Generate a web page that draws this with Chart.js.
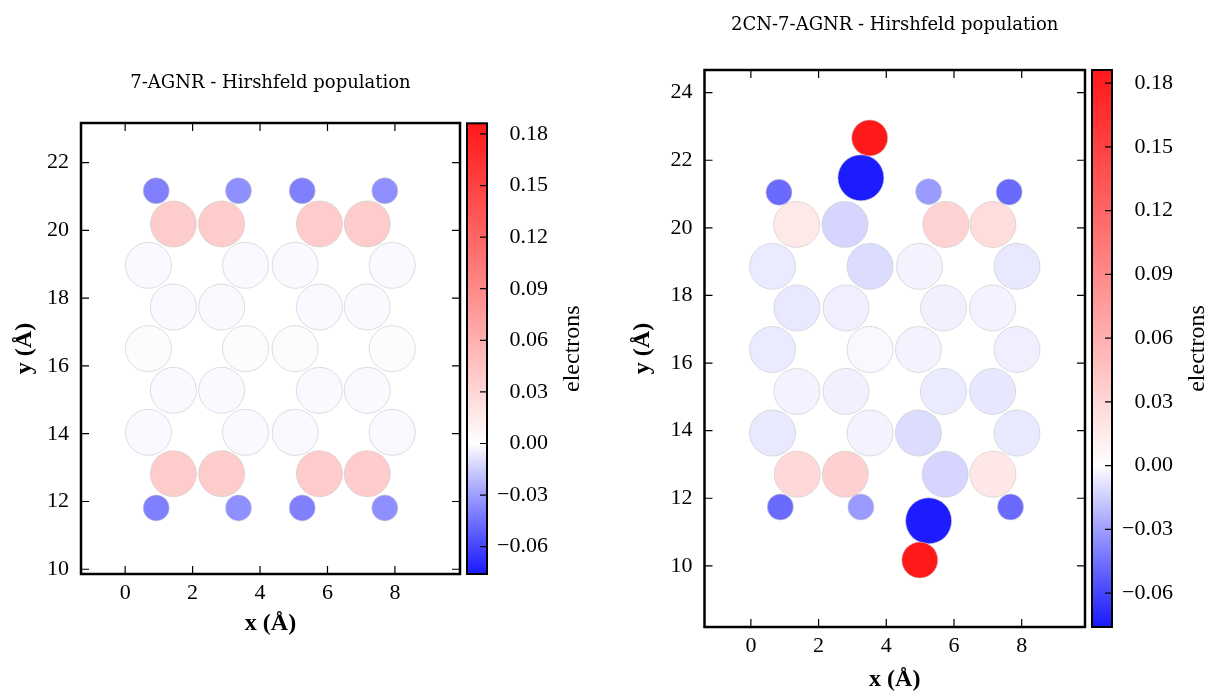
<!DOCTYPE html>
<html>
<head>
<meta charset="utf-8">
<script src="https://cdn.jsdelivr.net/npm/chart.js@4/dist/chart.umd.min.js"></script>
<style>
  html, body { margin: 0; padding: 0; background: #fff; }
  body { width: 1212px; height: 696px; position: relative; overflow: hidden; }
  canvas { position: absolute; }
</style>
</head>
<body>
<canvas id="mainL"></canvas>
<canvas id="cbL"></canvas>
<canvas id="mainR"></canvas>
<canvas id="cbR"></canvas>
<script>
// 7-AGNR atoms (H top row, 7 carbon rows, H bottom row)
const agnrX = [
  0.92, 3.36, 5.25, 7.70,
  1.43, 2.86, 5.76, 7.18,
  0.69, 3.57, 5.04, 7.92,
  1.43, 2.86, 5.76, 7.18,
  0.69, 3.57, 5.04, 7.92,
  1.43, 2.86, 5.76, 7.18,
  0.69, 3.57, 5.04, 7.92,
  1.43, 2.86, 5.76, 7.18,
  0.92, 3.36, 5.25, 7.70
];
const agnrY = [
  21.17, 21.17, 21.17, 21.17,
  20.19, 20.19, 20.19, 20.19,
  18.97, 18.97, 18.97, 18.97,
  17.74, 17.74, 17.74, 17.74,
  16.51, 16.51, 16.51, 16.51,
  15.28, 15.28, 15.28, 15.28,
  14.04, 14.04, 14.04, 14.04,
  12.82, 12.82, 12.82, 12.82,
  11.81, 11.81, 11.81, 11.81
];
const agnrQ = [
  -0.042, -0.037, -0.042, -0.037,
  0.041, 0.041, 0.041, 0.041,
  -0.002, -0.002, -0.002, -0.002,
  -0.002, -0.002, -0.002, -0.002,
  -0.001, -0.001, -0.001, -0.001,
  -0.002, -0.002, -0.002, -0.002,
  -0.002, -0.002, -0.002, -0.002,
  0.041, 0.041, 0.041, 0.041,
  -0.042, -0.037, -0.042, -0.037
];
const agnrEl = [
  'H','H','H','H',
  'C','C','C','C', 'C','C','C','C', 'C','C','C','C', 'C','C','C','C',
  'C','C','C','C', 'C','C','C','C', 'C','C','C','C',
  'H','H','H','H'
];

// 2CN-7-AGNR atoms (CN top, H top, 7 carbon rows, H bottom, CN bottom)
const cnX = [
  3.51, 3.25,
  0.83, 5.25, 7.63,
  1.35, 2.78, 5.76, 7.15,
  0.64, 3.52, 4.98, 7.86,
  1.36, 2.81, 5.69, 7.14,
  0.64, 3.52, 4.95, 7.86,
  1.36, 2.81, 5.69, 7.14,
  0.64, 3.52, 4.95, 7.86,
  1.37, 2.79, 5.74, 7.15,
  0.87, 3.25, 7.67,
  5.25, 4.99
];
const cnY = [
  22.66, 21.48,
  21.05, 21.07, 21.06,
  20.10, 20.10, 20.10, 20.10,
  18.86, 18.86, 18.86, 18.86,
  17.63, 17.63, 17.63, 17.63,
  16.40, 16.40, 16.40, 16.40,
  15.16, 15.16, 15.16, 15.16,
  13.93, 13.93, 13.93, 13.93,
  12.71, 12.71, 12.71, 12.71,
  11.74, 11.74, 11.74,
  11.33, 10.17
];
const cnQ = [
  0.186, -0.075,
  -0.049, -0.033, -0.049,
  0.019, -0.014, 0.036, 0.028,
  -0.0065, -0.0115, -0.004, -0.0075,
  -0.0075, -0.0055, -0.005, -0.004,
  -0.0065, -0.0025, -0.004, -0.0055,
  -0.004, -0.005, -0.0065, -0.008,
  -0.0075, -0.004, -0.0115, -0.007,
  0.031, 0.038, -0.014, 0.020,
  -0.049, -0.033, -0.049,
  -0.075, 0.186
];
const cnEl = [
  'N','C',
  'H','H','H',
  'C','C','C','C', 'C','C','C','C', 'C','C','C','C', 'C','C','C','C',
  'C','C','C','C', 'C','C','C','C', 'C','C','C','C',
  'H','H','H',
  'C','N'
];

const xTicks = [0, 2, 4, 6, 8];
const yTicksL = [10, 12, 14, 16, 18, 20, 22];
const yTicksR = [10, 12, 14, 16, 18, 20, 22, 24];
const cbTicks = [-0.06, -0.03, 0.00, 0.03, 0.06, 0.09, 0.12, 0.15, 0.18];
const qMin = -0.0759, qMax = 0.1862;

// marker sizes and styling
const radius = { C: 23, H: 13, N: 18 };
const ALPHA = 0.9;
const SERIF = '"Liberation Serif", "Times New Roman", serif';

Chart.defaults.font.family = SERIF;
Chart.defaults.color = '#000';

// bwr colormap, two slopes with white pinned at zero
function bwrRGB(q){
  if(q < 0){ const t = Math.min(1, q / qMin); return [1 - t, 1 - t, 1]; }
  const t = Math.min(1, q / qMax); return [1, 1 - t, 1 - t];
}
function bwr(q, a){
  const c = bwrRGB(q).map(v => Math.round(v * 255));
  return `rgba(${c[0]},${c[1]},${c[2]},${a})`;
}

function sizeCanvas(id, g){
  const cv = document.getElementById(id);
  cv.width = g.w; cv.height = g.h;
  cv.style.left = g.left + 'px'; cv.style.top = g.top + 'px';
  cv.style.width = g.w + 'px'; cv.style.height = g.h + 'px';
  return cv;
}

// frame + inward ticks on all four sides
const framePlugin = {
  id: 'frame',
  afterDraw(chart){
    const {ctx, chartArea: a, scales} = chart;
    ctx.save();
    ctx.strokeStyle = '#000';
    ctx.lineWidth = 1.2;
    const tl = 8;
    ctx.beginPath();
    for(const t of scales.x.ticks){
      const px = scales.x.getPixelForValue(t.value);
      ctx.moveTo(px, a.bottom); ctx.lineTo(px, a.bottom - tl);
      ctx.moveTo(px, a.top); ctx.lineTo(px, a.top + tl);
    }
    for(const t of scales.y.ticks){
      const py = scales.y.getPixelForValue(t.value);
      ctx.moveTo(a.left, py); ctx.lineTo(a.left + tl, py);
      ctx.moveTo(a.right, py); ctx.lineTo(a.right - tl, py);
    }
    ctx.stroke();
    ctx.lineWidth = 2.5;
    ctx.strokeRect(a.left, a.top, a.right - a.left, a.bottom - a.top);
    ctx.restore();
  }
};

// colour bar: gradient, frame, inward ticks, label
const cbPlugin = {
  id: 'cbar',
  afterDraw(chart){
    const {ctx, chartArea: a, scales} = chart;
    const y = scales.y;
    const pMin = y.getPixelForValue(qMin), pMax = y.getPixelForValue(qMax);
    const p0 = y.getPixelForValue(0);
    const grad = ctx.createLinearGradient(0, pMin, 0, pMax);
    grad.addColorStop(0, bwr(qMin, ALPHA));
    grad.addColorStop((p0 - pMin) / (pMax - pMin), 'rgba(255,255,255,1)');
    grad.addColorStop(1, bwr(qMax, ALPHA));
    ctx.save();
    ctx.fillStyle = '#fff';
    ctx.fillRect(a.left, a.top, a.right - a.left, a.bottom - a.top);
    ctx.fillStyle = grad;
    ctx.fillRect(a.left, a.top, a.right - a.left, a.bottom - a.top);
    ctx.strokeStyle = '#000';
    ctx.lineWidth = 1.2;
    ctx.beginPath();
    for(const t of y.ticks){
      const py = y.getPixelForValue(t.value);
      ctx.moveTo(a.right, py); ctx.lineTo(a.right - 7, py);
    }
    ctx.stroke();
    ctx.lineWidth = 2;
    ctx.strokeRect(a.left, a.top, a.right - a.left, a.bottom - a.top);
    ctx.translate(a.right + 86, (a.top + a.bottom) / 2);
    ctx.rotate(-Math.PI / 2);
    ctx.font = '24px ' + SERIF;
    ctx.fillStyle = '#000';
    ctx.textAlign = 'center';
    ctx.textBaseline = 'middle';
    ctx.fillText('electrons', 0, 0);
    ctx.restore();
  }
};

function makePanel(id, g, title, xs, ys, qs, els, yTicks){
  const cv = sizeCanvas(id, g);
  return new Chart(cv, {
    type: 'scatter',
    data: {
      datasets: [{
        data: xs.map((x, i) => ({ x, y: ys[i] })),
        pointRadius: c => radius[els[c.dataIndex]],
        pointHoverRadius: c => radius[els[c.dataIndex]],
        pointBackgroundColor: c => bwr(qs[c.dataIndex], ALPHA),
        pointBorderColor: 'rgba(200,200,200,0.6)',
        pointBorderWidth: 1
      }]
    },
    options: {
      responsive: false, animation: false, events: [],
      layout: { autoPadding: false, padding: { left: 0, right: 4, top: 0, bottom: 0 } },
      plugins: {
        legend: { display: false }, tooltip: { enabled: false },
        title: {
          display: true, text: title, fullSize: false, color: '#000',
          font: { family: '"DejaVu Serif", serif', size: 18, weight: 'normal' },
          padding: { top: g.titleTop, bottom: g.titleBottom }
        }
      },
      scales: {
        x: {
          type: 'linear', min: g.xmin, max: g.xmax,
          grid: { display: false, drawTicks: false }, border: { display: false },
          ticks: { padding: 6, font: { size: 22 }, autoSkip: false, maxRotation: 0, callback: v => String(v) },
          afterBuildTicks: s => { s.ticks = xTicks.map(value => ({ value })); },
          afterFit: s => { s.height = g.xAxisH; },
          title: { display: true, text: 'x (Å)', font: { size: 24, weight: 'bold' }, padding: { top: 0, bottom: g.xTitlePad } }
        },
        y: {
          type: 'linear', min: g.ymin, max: g.ymax,
          grid: { display: false, drawTicks: false }, border: { display: false },
          ticks: { padding: 12, font: { size: 22 }, autoSkip: false, callback: v => String(v) },
          afterBuildTicks: s => { s.ticks = yTicks.map(value => ({ value })); },
          afterFit: s => { s.width = g.yAxisW; },
          title: { display: true, text: 'y (Å)', font: { size: 24, weight: 'bold' }, padding: { top: g.yTitlePad, bottom: 0 } }
        }
      }
    },
    plugins: [framePlugin]
  });
}

function makeColorbar(id, g){
  const cv = sizeCanvas(id, g);
  return new Chart(cv, {
    type: 'scatter',
    data: { datasets: [] },
    options: {
      responsive: false, animation: false, events: [],
      layout: { autoPadding: false, padding: { left: 3, right: g.padRight, top: g.padTop, bottom: g.padBottom } },
      plugins: { legend: { display: false }, tooltip: { enabled: false } },
      scales: {
        x: { type: 'linear', display: false, min: 0, max: 1 },
        y: {
          type: 'linear', position: 'right', min: qMin, max: qMax,
          grid: { display: false, drawTicks: false }, border: { display: false },
          ticks: {
            padding: 6, crossAlign: 'far', font: { size: 22 }, autoSkip: false,
            callback: v => v.toFixed(2).replace('-', '\u2212')
          },
          afterBuildTicks: s => { s.ticks = cbTicks.map(value => ({ value })); },
          afterFit: s => { s.width = 61; }
        }
      }
    },
    plugins: [cbPlugin]
  });
}

makePanel('mainL', {
  left: 0, top: 0, w: 464, h: 660,
  xmin: -1.31, xmax: 9.93, ymin: 9.86, ymax: 23.17,
  yAxisW: 81, xAxisH: 86, titleTop: 72.2, titleBottom: 29.2, yTitlePad: 10.6, xTitlePad: 21.6
}, '7-AGNR - Hirshfeld population', agnrX, agnrY, agnrQ, agnrEl, yTicksL);

makeColorbar('cbL', { left: 464, top: 0, w: 130, h: 660, padTop: 123.3, padBottom: 86, padRight: 46 });

makePanel('mainR', {
  left: 620, top: 0, w: 469, h: 696,
  xmin: -1.37, xmax: 9.87, ymin: 8.19, ymax: 24.67,
  yAxisW: 84.5, xAxisH: 69, titleTop: 14.2, titleBottom: 34.2, yTitlePad: 8.6, xTitlePad: 1.6
}, '2CN-7-AGNR - Hirshfeld population', cnX, cnY, cnQ, cnEl, yTicksR);

makeColorbar('cbR', { left: 1089, top: 0, w: 123, h: 696, padTop: 70, padBottom: 69, padRight: 39 });
</script>
</body>
</html>
